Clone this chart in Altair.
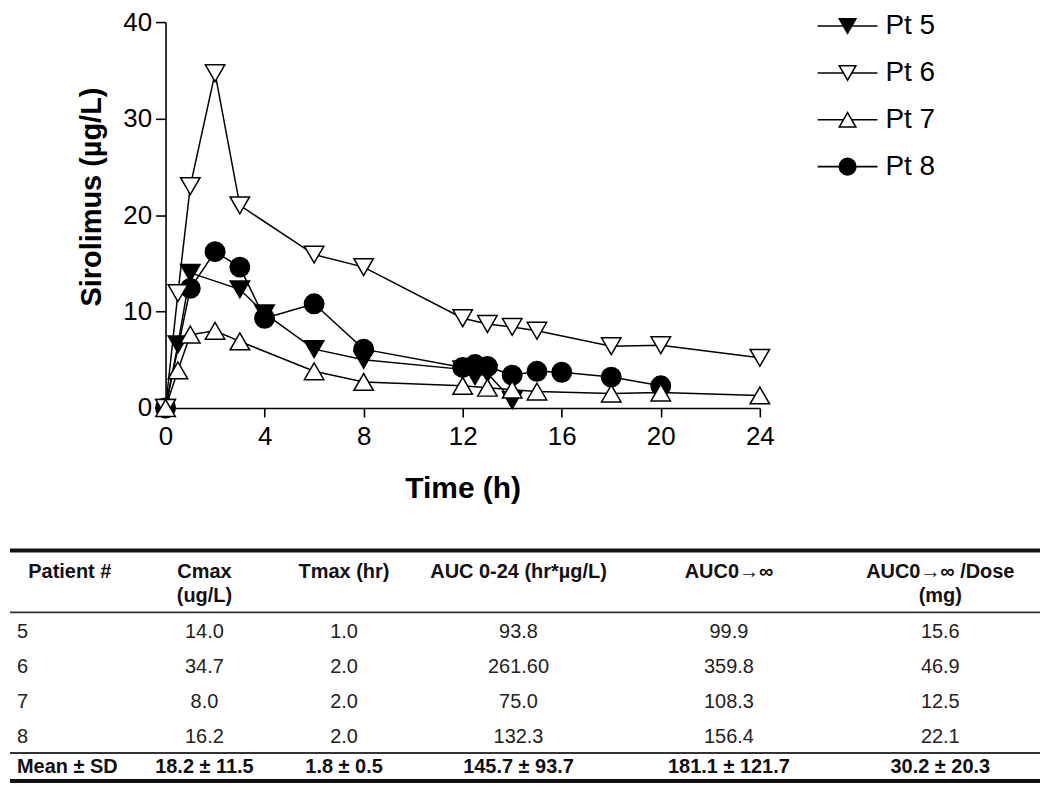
import altair as alt
import pandas as pd

# ---------------- data ----------------
series = ["Pt 5", "Pt 6", "Pt 7", "Pt 8"]

pt5_time = [0, 0.5, 1, 3, 4, 6, 8, 12, 12.5, 13, 14]
pt5_conc = [0, 6.6, 14.0, 12.3, 9.8, 6.1, 5.0, 4.0, 3.3, 3.6, 0.8]

pt6_time = [0, 0.5, 1, 2, 3, 6, 8, 12, 13, 14, 15, 18, 20, 24]
pt6_conc = [0, 11.9, 23.0, 34.7, 21.0, 15.9, 14.6, 9.3, 8.7, 8.4, 8.0, 6.4, 6.5, 5.2]

pt7_time = [0, 0.5, 1, 2, 3, 6, 8, 12, 13, 14, 15, 18, 20, 24]
pt7_conc = [0, 3.9, 7.6, 8.0, 6.9, 3.8, 2.7, 2.3, 2.1, 1.9, 1.7, 1.5, 1.6, 1.3]

pt8_time = [0, 1, 2, 3, 4, 6, 8, 12, 12.5, 13, 14, 15, 16, 18, 20]
pt8_conc = [0, 12.4, 16.2, 14.6, 9.3, 10.8, 6.1, 4.2, 4.5, 4.3, 3.4, 3.8, 3.7, 3.2, 2.3]

x_ticks = [0, 4, 8, 12, 16, 20, 24]
y_ticks = [0, 10, 20, 30, 40]

table_headers = ["Patient #", "Cmax\n(ug/L)", "Tmax (hr)", "AUC 0-24 (hr*µg/L)",
                 "AUC0→∞", "AUC0→∞ /Dose\n(mg)"]
patients = ["5", "6", "7", "8"]
cmax = ["14.0", "34.7", "8.0", "16.2"]
tmax = ["1.0", "2.0", "2.0", "2.0"]
auc_0_24 = ["93.8", "261.60", "75.0", "132.3"]
auc_inf = ["99.9", "359.8", "108.3", "156.4"]
auc_inf_dose = ["15.6", "46.9", "12.5", "22.1"]
mean_sd = ["Mean ± SD", "18.2 ± 11.5", "1.8 ± 0.5", "145.7 ± 93.7", "181.1 ± 121.7", "30.2 ± 20.3"]

# ---------------- layout / style ----------------
FONT = "Liberation Sans"
PLOT_LEFT, PLOT_TOP = 164, 21      # page position of the plot area
W, H = 596, 387


def rx(x):
    return x - PLOT_LEFT


def ry(y):
    return y - PLOT_TOP


# ---------------- tables for the library ----------------
draw_order = [("Pt 5", pt5_time, pt5_conc), ("Pt 8", pt8_time, pt8_conc),
              ("Pt 6", pt6_time, pt6_conc), ("Pt 7", pt7_time, pt7_conc)]
recs = []
for name, ts, cs in draw_order:
    for t, c in zip(ts, cs):
        recs.append({"series": name, "time": t, "conc": c})
df = pd.DataFrame(recs)

legend_df = pd.DataFrame({"series": series, "idx": list(range(len(series)))})

header_df = pd.DataFrame({"col": list(range(len(table_headers))), "label": table_headers})

columns = [patients, cmax, tmax, auc_0_24, auc_inf, auc_inf_dose]
body = []
for ci, colvals in enumerate(columns):
    for ri, v in enumerate(colvals):
        body.append({"col": ci, "row": ri + 1, "val": v})
body_df = pd.DataFrame(body)
mean_df = pd.DataFrame({"col": list(range(len(mean_sd))), "row": [5] * len(mean_sd), "val": mean_sd})

thick_df = pd.DataFrame({"idx": [0, 1]})
thin_df = pd.DataFrame({"idx": [0, 1]})

# ---------------- scales ----------------
x_scale = alt.Scale(domain=[0, 24], nice=False, zero=False)
y_scale = alt.Scale(domain=[0, 40], nice=False, zero=False)
shape_scale = alt.Scale(domain=series, range=["triangle-down", "triangle-down", "triangle-up", "circle"])
fill_scale = alt.Scale(domain=series, range=["black", "white", "white", "black"])
size_scale = alt.Scale(domain=series, range=[380, 380, 380, 290])

legend_y = alt.Scale(domain=[0, 3], range=[ry(25), ry(166)], nice=False, zero=False)

col_body_scale = alt.Scale(domain=[0, 1, 2, 3, 4, 5],
                           range=[rx(15), rx(203), rx(343), rx(518), rx(729), rx(941)],
                           nice=False, zero=False)
col_head_scale = alt.Scale(domain=[0, 1, 2, 3, 4, 5],
                           range=[rx(68), rx(203), rx(343), rx(518), rx(729), rx(941)],
                           nice=False, zero=False)
row_scale = alt.Scale(domain=[1, 2, 3, 4, 5],
                      range=[ry(633), ry(668), ry(703), ry(738), ry(768)],
                      nice=False, zero=False)
thick_y = alt.Scale(domain=[0, 1], range=[ry(551), ry(782)], nice=False, zero=False)
thin_y = alt.Scale(domain=[0, 1], range=[ry(613), ry(754)], nice=False, zero=False)

axis_common = dict(grid=False, domainColor="black", domainWidth=1.6, tickColor="black",
                   tickWidth=1.6, labelFont=FONT, labelColor="black", titleFont=FONT,
                   titleFontWeight="bold", titleColor="black", labelFlush=False,
                   labelOverlap=False)

x_axis = alt.Axis(values=x_ticks, title="Time (h)", tickSize=9, labelFontSize=26,
                  labelPadding=7, titleFontSize=30, titlePadding=24, **axis_common)
y_axis = alt.Axis(values=y_ticks, title="Sirolimus (µg/L)", tickSize=10, labelFontSize=26,
                  labelPadding=4, titleFontSize=29, titlePadding=16, titleY=ry(196),
                  **axis_common)

# ---------------- plot layers ----------------
lines = alt.Chart(df).mark_line(color="black", strokeWidth=1.5).encode(
    x=alt.X("time:Q", scale=x_scale, axis=x_axis),
    y=alt.Y("conc:Q", scale=y_scale, axis=y_axis),
    detail="series:N",
)

points = alt.Chart(df).mark_point(filled=True, stroke="black", strokeWidth=1.5, opacity=1).encode(
    x=alt.X("time:Q", scale=x_scale, axis=None),
    y=alt.Y("conc:Q", scale=y_scale, axis=None),
    shape=alt.Shape("series:N", scale=shape_scale, legend=None),
    fill=alt.Fill("series:N", scale=fill_scale, legend=None),
    size=alt.Size("series:N", scale=size_scale, legend=None),
)

# ---------------- legend layers ----------------
leg_line = alt.Chart(legend_df).mark_rule(color="black", strokeWidth=1.6).encode(
    x=alt.value(rx(818)), x2=alt.value(rx(878)),
    y=alt.Y("idx:Q", scale=legend_y, axis=None),
)
leg_pts = alt.Chart(legend_df).mark_point(filled=True, stroke="black", strokeWidth=1.5,
                                          opacity=1, size=280).encode(
    x=alt.value(rx(848)),
    y=alt.Y("idx:Q", scale=legend_y, axis=None),
    shape=alt.Shape("series:N", scale=shape_scale, legend=None),
    fill=alt.Fill("series:N", scale=fill_scale, legend=None),
)
leg_text = alt.Chart(legend_df).mark_text(align="left", baseline="middle", font=FONT,
                                          fontSize=28, color="black").encode(
    x=alt.value(rx(886)),
    y=alt.Y("idx:Q", scale=legend_y, axis=None),
    text="series:N",
)

# ---------------- table layers ----------------
thick_rules = alt.Chart(thick_df).mark_rule(color="#111", strokeWidth=4).encode(
    x=alt.value(rx(8)), x2=alt.value(rx(1041)),
    y=alt.Y("idx:Q", scale=thick_y, axis=None),
)
thin_rules = alt.Chart(thin_df).mark_rule(color="#333", strokeWidth=2).encode(
    x=alt.value(rx(8)), x2=alt.value(rx(1041)),
    y=alt.Y("idx:Q", scale=thin_y, axis=None),
)

headers = alt.Chart(header_df).mark_text(align="center", baseline="top", font=FONT, fontSize=20,
                                         fontWeight="bold", color="#111", lineBreak="\n",
                                         lineHeight=24).encode(
    x=alt.X("col:Q", scale=col_head_scale, axis=None),
    y=alt.value(ry(563)),
    text="label:N",
)

row_labels = alt.Chart(body_df).transform_filter("datum.col == 0").mark_text(
    align="left", baseline="middle", font=FONT, fontSize=20, color="#222").encode(
    x=alt.X("col:Q", scale=col_body_scale, axis=None),
    y=alt.Y("row:Q", scale=row_scale, axis=None),
    text="val:N",
)
cells = alt.Chart(body_df).transform_filter("datum.col > 0").mark_text(
    align="center", baseline="middle", font=FONT, fontSize=20, color="#222").encode(
    x=alt.X("col:Q", scale=col_body_scale, axis=None),
    y=alt.Y("row:Q", scale=row_scale, axis=None),
    text="val:N",
)
mean_label = alt.Chart(mean_df).transform_filter("datum.col == 0").mark_text(
    align="left", baseline="middle", font=FONT, fontSize=20, fontWeight="bold", color="#111").encode(
    x=alt.X("col:Q", scale=col_body_scale, axis=None),
    y=alt.Y("row:Q", scale=row_scale, axis=None),
    text="val:N",
)
mean_cells = alt.Chart(mean_df).transform_filter("datum.col > 0").mark_text(
    align="center", baseline="middle", font=FONT, fontSize=20, fontWeight="bold", color="#111").encode(
    x=alt.X("col:Q", scale=col_body_scale, axis=None),
    y=alt.Y("row:Q", scale=row_scale, axis=None),
    text="val:N",
)

chart = alt.layer(
    lines, points, leg_line, leg_pts, leg_text,
    thick_rules, thin_rules, headers, row_labels, cells, mean_label, mean_cells,
).resolve_scale(
    x="independent", y="independent"
).properties(
    width=W, height=H, padding=0, background="white"
).configure_view(stroke=None)

chart.save("out.html", embed_options={"renderer": "svg", "actions": False})
